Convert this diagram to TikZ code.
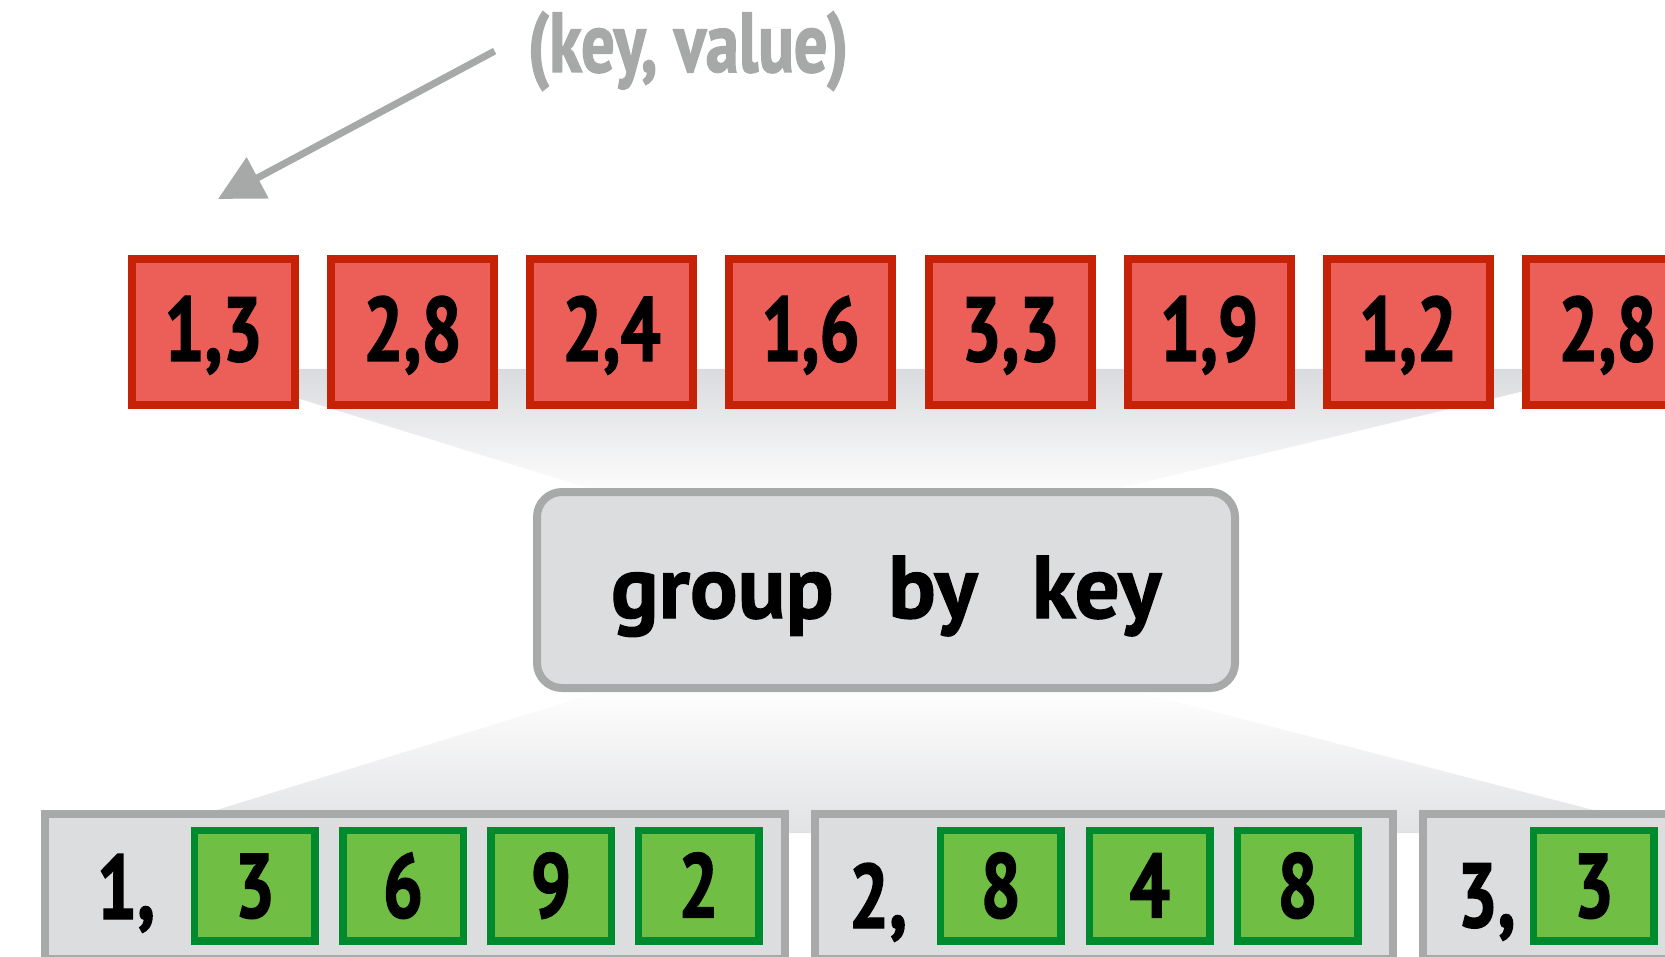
\documentclass[tikz,border=0pt]{standalone}
\usepackage{fontspec}
\setmainfont{PT Sans}
\newfontfamily\condfont[FakeStretch=0.78, FakeBold=1.6]{PT Sans}
\newfontfamily\boxfont[FakeBold=1.3]{PT Sans}
\usetikzlibrary{arrows.meta}

\definecolor{pairfill}{HTML}{EC5F59}
\definecolor{pairdraw}{HTML}{C52208}
\definecolor{valfill}{HTML}{70BF44}
\definecolor{valdraw}{HTML}{008A2E}
\definecolor{grpfill}{HTML}{DCDDDF}
\definecolor{grpdraw}{HTML}{A7AAA9}
\definecolor{kvgray}{HTML}{A6A9A8}
\definecolor{fadegray}{HTML}{DADBDE}

\newcommand{\digitfont}{\condfont\bfseries\fontsize{91}{91}\selectfont}

\tikzset{
  pair/.style={draw=pairdraw, fill=pairfill, line width=8pt, minimum width=163pt,
    minimum height=146pt, inner sep=0pt, text height=64pt, text depth=6pt, font=\digitfont},
  val/.style={draw=valdraw, fill=valfill, line width=7.5pt, minimum width=120.5pt,
    minimum height=110.5pt, inner sep=0pt, text height=64pt, text depth=0pt, font=\digitfont},
  grp/.style={draw=grpdraw, fill=grpfill, line width=8pt, minimum height=145pt, inner sep=0pt},
  keylabel/.style={anchor=base, inner sep=0pt, font=\digitfont}
}

\begin{document}
\begin{tikzpicture}[x=1pt, y=-1pt]
  \useasboundingbox (0,0) rectangle (1665,957);
  \clip (0,0) rectangle (1665,957);

  \shade[top color=fadegray, bottom color=white] (203,369) -- (1616,369) -- (1070,500) -- (627,500) -- cycle;
  \shade[top color=white, bottom color=fadegray!80!white] (622,685) -- (1111,685) -- (1682,833) -- (142,833) -- cycle;

  \node[anchor=base, inner sep=0pt, outer xsep=33pt, text=kvgray,
    font=\condfont\bfseries\fontsize{85}{85}\selectfont] (KV) at (688,72) {(key, value)};
  \coordinate (T) at (218,199);
  \draw[-{Triangle[length=45pt,width=45pt]}, line width=7pt, kvgray] (KV.west) -- (T);

  \node[pair] (P1) at (213.5,332) {1,3};
  \node[pair] (P2) at (412.5,332) {2,8};
  \node[pair] (P3) at (611.5,332) {2,4};
  \node[pair] (P4) at (810.5,332) {1,6};
  \node[pair] (P5) at (1010.5,332) {3,3};
  \node[pair] (P6) at (1209,332) {1,9};
  \node[pair] (P7) at (1408,332) {1,2};
  \node[pair] (P8) at (1607.5,332) {2,8};

  \node[draw=grpdraw, fill=grpfill, line width=8pt, rounded corners=25pt,
    minimum width=698pt, minimum height=196pt, inner sep=0pt, text height=60pt, text depth=4pt,
    font=\boxfont\bfseries\fontsize{89}{89}\selectfont] (G) at (886,590) {group\hspace{0.36em} by\hspace{0.36em} key};

  \node[grp, minimum width=740pt] (C1) at (414.6,886.5) {};
  \node[grp, minimum width=578pt] (C2) at (1104,886.5) {};
  \node[grp, minimum width=273pt] (C3) at (1559.5,886.5) {};

  \node[keylabel] (L1) at (126,919) {1,};
  \node[val] (V1) at (254.8,885.5) {3};
  \node[val] (V2) at (403,885.5) {6};
  \node[val] (V3) at (551,885.5) {9};
  \node[val] (V4) at (698.5,885.5) {2};

  \node[keylabel] (L2) at (878,928) {2,};
  \node[val] (V5) at (1000.8,885.5) {8};
  \node[val] (V6) at (1149.7,885.5) {4};
  \node[val] (V7) at (1297.5,885.5) {8};

  \node[keylabel] (L3) at (1486.5,927) {3,};
  \node[val] (V8) at (1593.7,885.5) {3};
\end{tikzpicture}
\end{document}
